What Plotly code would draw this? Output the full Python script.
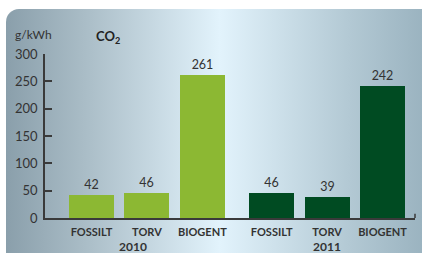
import base64
import plotly.graph_objects as go

# ---- data ----
categories = ["FOSSILT", "TORV", "BIOGENT"]
years = ["2010", "2011"]
values_2010 = [42, 46, 261]
values_2011 = [46, 39, 242]
y_ticks = [0, 50, 100, 150, 200, 250, 300]

series = [values_2010, values_2011]
colors = ["#8cb833", "#004b22"]

W, H = 422, 253
group_step = 3.25  # categories per group plus gap

# background panel: rounded rect with horizontal gradient
svg = f'''<svg xmlns="http://www.w3.org/2000/svg" width="{W}" height="{H}" viewBox="0 0 {W} {H}">
<defs><linearGradient id="g" x1="0" y1="0" x2="1" y2="0">
<stop offset="0" stop-color="#8a9fab"/>
<stop offset="0.18" stop-color="#a9bcc6"/>
<stop offset="0.5" stop-color="#e2f3fc"/>
<stop offset="0.8" stop-color="#b3c9d4"/>
<stop offset="1" stop-color="#97b0bd"/>
</linearGradient></defs>
<rect x="6" y="9" width="{W-6+12}" height="{H-9+12}" rx="13" ry="13" fill="url(#g)"/>
</svg>'''
bg_src = "data:image/svg+xml;base64," + base64.b64encode(svg.encode()).decode()

fig = go.Figure()
tickvals, ticktext = [], []
for g, (yr, vals) in enumerate(zip(years, series)):
    xs = [g * group_step + i for i in range(len(categories))]
    tickvals += xs
    ticktext += [f"<b>{c}</b>" for c in categories]
    fig.add_trace(go.Bar(
        x=xs, y=vals, width=0.81, marker=dict(color=colors[g], line=dict(width=0)),
        text=[str(v) for v in vals], textposition="outside",
        textfont=dict(size=12.5, color="#333333", family="Lato"),
        cliponaxis=False, name=yr, showlegend=False, hoverinfo="skip",
    ))

year_label_x = [0.75, group_step + 1]
annotations = [
    dict(text=f"<b>{yr}</b>", x=xp, xref="x", y=1 - 246 / H, yref="paper",
         yanchor="middle", xanchor="center",
         showarrow=False, font=dict(size=12, color="#333333", family="Lato"))
    for yr, xp in zip(years, year_label_x)
]
annotations += [
    dict(text="g/kWh", x=33.5 / W, y=1 - 34 / H, xref="paper", yref="paper",
         xanchor="center", yanchor="middle",
         showarrow=False, font=dict(size=12, color="#333333", family="Lato")),
    dict(text="<b>CO<sub>2</sub></b>", x=108 / W, y=1 - 37 / H, xref="paper", yref="paper",
         xanchor="center", yanchor="middle",
         showarrow=False, font=dict(size=13, color="#222222", family="Lato")),
]

fig.update_layout(
    template="none",
    width=W, height=H, margin=dict(l=0, r=0, t=0, b=0, pad=0), autosize=False,
    paper_bgcolor="white", plot_bgcolor="rgba(0,0,0,0)",
    images=[dict(source=bg_src, xref="paper", yref="paper", x=0, y=1,
                 sizex=1, sizey=1, sizing="stretch", xanchor="left", yanchor="top",
                 layer="below")],
    xaxis=dict(domain=[45 / W, 415 / W], range=[-0.839, 5.836], automargin=False,
               tickvals=tickvals, ticktext=ticktext, showgrid=False, zeroline=False,
               showline=True, linecolor="#3a3a3a", linewidth=1.5, ticks="",
               ticklabelstandoff=3,
               tickfont=dict(size=11, color="#333333", family="Lato")),
    yaxis=dict(domain=[1 - 218 / H, 1 - 54 / H], range=[0, 300], tickvals=y_ticks,
               automargin=False, ticklabelstandoff=3,
               showgrid=False, zeroline=False, showline=True, linecolor="#3a3a3a",
               linewidth=1.5, ticks="inside", ticklen=7, tickwidth=1.5, tickcolor="#3a3a3a",
               tickfont=dict(size=13, color="#333333", family="Lato")),
    shapes=[dict(type="line", xref="x domain", yref="y", x0=1, x1=1, y0=0, y1=8,
                 line=dict(color="#3a3a3a", width=1.5))],
    annotations=annotations,
    bargap=0,
)

fig.write_html("out.html", config={"displayModeBar": False},
               post_script="document.body.style.margin='0';")
